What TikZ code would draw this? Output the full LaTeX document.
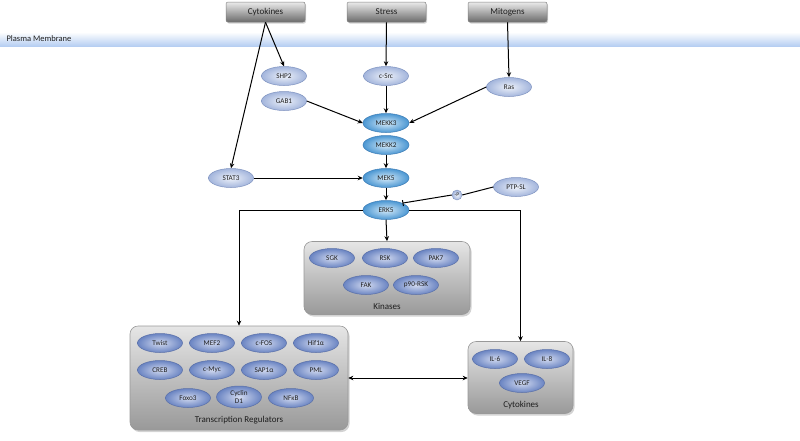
\documentclass[tikz,border=0pt]{standalone}
\usepackage{fontspec}
\setmainfont{Carlito}
\usetikzlibrary{shapes.geometric,shadows,arrows.meta,calc}
\definecolor{ellin}{HTML}{EEF2FA}
\definecolor{ellout}{HTML}{A3B5DC}
\definecolor{elldraw}{HTML}{7F93C0}
\definecolor{mkin}{HTML}{D6EBF9}
\definecolor{mkout}{HTML}{4A96D2}
\definecolor{mkdraw}{HTML}{3E7DB5}
\definecolor{bxin}{HTML}{D2DAF0}
\definecolor{bxout}{HTML}{6A84C2}
\definecolor{bxdraw}{HTML}{5A70A8}
\definecolor{memb}{HTML}{B6CEF2}
\definecolor{txt}{HTML}{1E1E1E}
\tikzset{
  topbox/.style={rectangle, rounded corners=2pt, minimum width=79pt, minimum height=20pt,
    top color=black!8, bottom color=black!58, draw=black!50, line width=0.5pt,
    drop shadow={shadow xshift=1pt,shadow yshift=-1.5pt,opacity=0.35},
    font=\fontsize{9}{10}\selectfont, text=txt},
  lell/.style={ellipse, minimum width=45pt, minimum height=19pt, inner sep=0pt,
    inner color=ellin, outer color=ellout, draw=elldraw, line width=0.5pt,
    font=\fontsize{7.2}{8}\selectfont, text=txt},
  mell/.style={ellipse, minimum width=46pt, minimum height=19pt, inner sep=0pt,
    inner color=mkin, outer color=mkout, draw=mkdraw, line width=0.5pt,
    font=\fontsize{7.2}{8}\selectfont, text=txt},
  bell/.style={ellipse, minimum width=45pt, minimum height=19pt, inner sep=0pt,
    inner color=bxin, outer color=bxout, draw=bxdraw, line width=0.5pt,
    font=\fontsize{7.2}{7.6}\selectfont, text=txt, align=center},
  cont/.style={rectangle, rounded corners=8pt, top color=black!10, bottom color=black!40,
    draw=black!40, line width=0.6pt,
    drop shadow={shadow xshift=1.5pt,shadow yshift=-2pt,opacity=0.35}},
  contlabel/.style={font=\fontsize{9}{10}\selectfont, text=txt},
  arr/.style={-{Stealth[length=5pt,width=4.5pt]}, line width=1pt, black},
  darr/.style={{Stealth[length=5pt,width=4.5pt]}-{Stealth[length=5pt,width=4.5pt]}, line width=1pt, black},
  teearr/.style={-{Bar[width=6pt]}, line width=1pt, black},
  pcirc/.style={circle, minimum size=10pt, inner sep=0pt, inner color=ellin, outer color=ellout,
    draw=elldraw, line width=0.4pt, font=\fontsize{5.5}{6}\selectfont, text=txt},
}
\begin{document}
\begin{tikzpicture}[x=1pt,y=-1pt]
\useasboundingbox (0,0) rectangle (800,440);
% membrane
\shade[top color=white, bottom color=memb] (0,32) rectangle (800,46);
\node[anchor=west, font=\fontsize{8.5}{9}\selectfont, text=txt] (pm) at (3,39) {Plasma Membrane};
% top boxes
\node[topbox] (cyt) at (265.5,12) {Cytokines};
\node[topbox] (stress) at (386.5,12) {Stress};
\node[topbox] (mito) at (507.5,12) {Mitogens};
% light ellipses
\node[lell] (shp2) at (284,76) {SHP2};
\node[lell] (gab1) at (284,101) {GAB1};
\node[lell] (csrc) at (386,76) {c-Src};
\node[lell] (ras) at (509,87) {Ras};
\node[lell] (stat3) at (231,178) {STAT3};
\node[lell] (ptpsl) at (516,187) {PTP-SL};
% kinase cascade
\node[mell] (mekk3) at (386,123) {MEKK3};
\node[mell] (mekk2) at (386,145) {MEKK2};
\node[mell] (mek5) at (386,178) {MEK5};
\node[mell] (erk5) at (386,210) {ERK5};
\node[pcirc] (p) at (457,195) {-P};
% containers
\node[cont, minimum width=166pt, minimum height=73pt] (kin) at (387,278) {};
\node[contlabel] (kinl) at (387,306) {Kinases};
\node[cont, minimum width=218pt, minimum height=104pt] (tr) at (239,378) {};
\node[contlabel] (trl) at (239,420) {Transcription Regulators};
\node[cont, minimum width=105pt, minimum height=72pt] (cytb) at (520.5,377.5) {};
\node[contlabel] (cytbl) at (521,405) {Cytokines};
% kinases
\node[bell] (sgk) at (332,258) {SGK};
\node[bell] (rsk) at (385,258) {RSK};
\node[bell] (pak7) at (436,258) {PAK7};
\node[bell] (fak) at (366,285) {FAK};
\node[bell] (p90) at (416,285) {p90-RSK};
% transcription regulators
\node[bell] (twist) at (160,343) {Twist};
\node[bell] (mef2) at (212,343) {MEF2};
\node[bell] (cfos) at (264,343) {c-FOS};
\node[bell] (hif) at (316,343) {Hif1α};
\node[bell] (creb) at (160,370) {CREB};
\node[bell] (cmyc) at (212,370) {c-Myc};
\node[bell] (sap) at (264,370) {SAP1α};
\node[bell] (pml) at (316,370) {PML};
\node[bell] (foxo) at (188,398) {Foxo3};
\node[bell, minimum height=22pt] (cyc) at (239,397) {Cyclin\\D1};
\node[bell] (nfkb) at (291,398) {NFκB};
% cytokines
\node[bell] (il6) at (495,359) {IL-6};
\node[bell] (il8) at (547,359) {IL-8};
\node[bell] (vegf) at (522,383) {VEGF};
% connectors
\draw[arr] (cyt.south) -- (shp2.north);
\draw[arr] (cyt.south) -- (stat3.north);
\draw[arr] (stress.south) -- (csrc.north);
\draw[arr] (csrc.south) -- (mekk3.north);
\draw[arr] (mito.south) -- (ras.north);
\draw[arr] (gab1.east) -- (mekk3.west);
\draw[arr] (ras.west) -- (mekk3.east);
\draw[arr] (mekk2.south) -- (mek5.north);
\draw[arr] (mek5.south) -- (erk5.north);
\draw[arr] (stat3.east) -- (mek5.west);
\draw[line width=1pt] (ptpsl.west) -- (p.east);
\draw[teearr] (p.west) -- (erk5.north east);
\draw[arr] (erk5.south) -- (kin.north);
\draw[arr] (erk5.west) -| (tr.north);
\draw[arr] (erk5.east) -| (cytb.north);
\draw[darr] (tr.east) -- (tr.east -| cytb.west);
\end{tikzpicture}
\end{document}
